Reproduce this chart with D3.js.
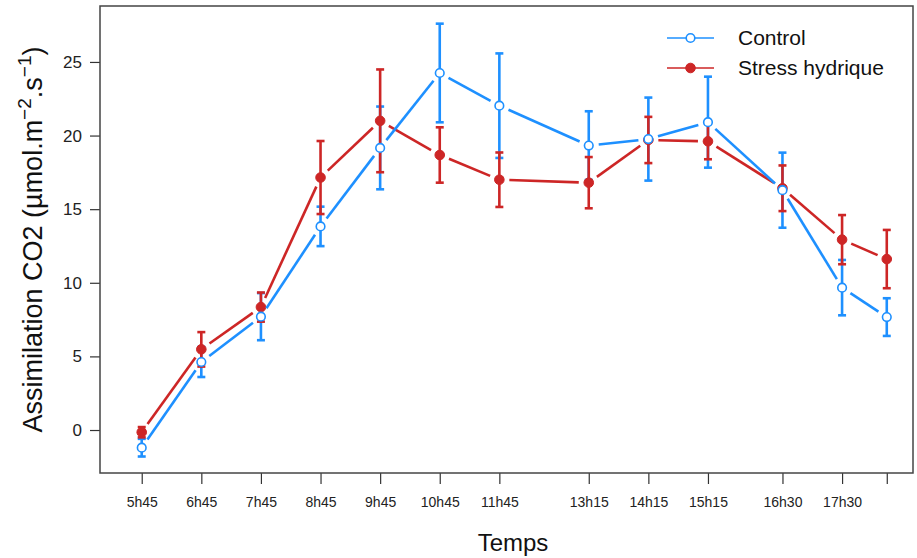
<!DOCTYPE html>
<html>
<head>
<meta charset="utf-8">
<script src="https://cdn.jsdelivr.net/npm/d3@7"></script>
<style>
  html, body { margin: 0; padding: 0; background: #fff; }
  svg { display: block; font-family: Arial, "Liberation Sans", sans-serif; }
</style>
</head>
<body>
<svg id="chart" width="917" height="558"></svg>
<script>
// Sampling times (decimal hours) and their tick labels
const hours = [5.75, 6.75, 7.75, 8.75, 9.75, 10.75, 11.75, 13.25, 14.25, 15.25, 16.5, 17.5, 18.25];
const hourLabels = ["5h45", "6h45", "7h45", "8h45", "9h45", "10h45", "11h45", "13h15", "14h15", "15h15", "16h30", "17h30", ""];

// CO2 assimilation (µmol.m-2.s-1), mean and error
const controlMean = [-1.2, 4.62, 7.7, 13.83, 19.16, 24.25, 22.03, 19.32, 19.76, 20.91, 16.29, 9.67, 7.67];
const controlErr  = [0.6, 1.02, 1.6, 1.34, 2.81, 3.35, 3.55, 2.33, 2.82, 3.09, 2.55, 1.88, 1.28];
const stressMean  = [-0.15, 5.48, 8.35, 17.15, 21.0, 18.68, 17.0, 16.8, 19.7, 19.61, 16.42, 12.93, 11.61];
const stressErr   = [0.35, 1.17, 0.99, 2.48, 3.49, 1.88, 1.85, 1.74, 1.57, 1.22, 1.55, 1.67, 1.98];

const yTicks = [0, 5, 10, 15, 20, 25];

const seriesNames = ["Control", "Stress hydrique"];
const BLUE = "#1e90ff";
const RED = "#cd2626";

const svg = d3.select("#chart");
const plot = { left: 100, right: 913, top: 6, bottom: 473 };

const x = d3.scaleLinear().domain([5.05, 18.69]).range([plot.left, plot.right]);
const y = d3.scaleLinear().domain([-2.92, 28.8]).range([plot.bottom, plot.top]);

// Axes
const xAxis = d3.axisBottom(x).tickValues(hours).tickFormat((d, i) => hourLabels[i]).tickSize(11).tickSizeOuter(0);
const gx = svg.append("g").attr("transform", `translate(0,${plot.bottom})`).call(xAxis);
gx.select(".domain").remove();
gx.selectAll(".tick line").attr("stroke", "#333").attr("stroke-width", 1.2);
gx.selectAll(".tick text").attr("font-size", 14).attr("fill", "#222").attr("y", 30).attr("dy", "0.32em")
  .attr("font-family", "Arial, 'Liberation Sans', sans-serif");

const yAxis = d3.axisLeft(y).tickValues(yTicks).tickSize(10).tickSizeOuter(0);
const gy = svg.append("g").attr("transform", `translate(${plot.left},0)`).call(yAxis);
gy.select(".domain").remove();
gy.selectAll(".tick line").attr("stroke", "#333").attr("stroke-width", 1.2);
gy.selectAll(".tick text").attr("font-size", 17).attr("fill", "#222").attr("x", -18)
  .attr("font-family", "Arial, 'Liberation Sans', sans-serif");

// Plot frame
svg.append("rect")
  .attr("x", plot.left).attr("y", plot.top)
  .attr("width", plot.right - plot.left).attr("height", plot.bottom - plot.top)
  .attr("fill", "none").attr("stroke", "#444").attr("stroke-width", 1.5);

// Axis titles
svg.append("text")
  .attr("x", 513).attr("y", 551)
  .attr("text-anchor", "middle").attr("font-size", 24).attr("fill", "#111")
  .text("Temps");

const yTitle = svg.append("text")
  .attr("transform", `translate(42,${(plot.top + plot.bottom) / 2}) rotate(-90)`)
  .attr("text-anchor", "middle").attr("font-size", 27).attr("fill", "#111");
yTitle.append("tspan").text("Assimilation CO2 (µmol.m");
yTitle.append("tspan").attr("font-size", 19).attr("dy", -11).text("\u22122");
yTitle.append("tspan").attr("dy", 11).text(".s");
yTitle.append("tspan").attr("font-size", 19).attr("dy", -11).text("\u22121");
yTitle.append("tspan").attr("dy", 11).text(")");

// Build series records
const makeSeries = (means, errs) => hours.map((h, i) => ({ h, v: means[i], e: errs[i] }));
const control = makeSeries(controlMean, controlErr);
const stress = makeSeries(stressMean, stressErr);

// Error bars with caps
function drawErrorBars(data, color) {
  const g = svg.append("g").attr("stroke", color).attr("stroke-width", 2.6).attr("fill", "none");
  const cap = 4;
  data.forEach(d => {
    const cx = x(d.h), y0 = y(d.v - d.e), y1 = y(d.v + d.e);
    g.append("line").attr("x1", cx).attr("x2", cx).attr("y1", y0).attr("y2", y1);
    g.append("line").attr("x1", cx - cap).attr("x2", cx + cap).attr("y1", y0).attr("y2", y0);
    g.append("line").attr("x1", cx - cap).attr("x2", cx + cap).attr("y1", y1).attr("y2", y1);
  });
}

// Connecting segments stopping short of each point, then markers
function drawLine(data, color, filled) {
  const gap = 10;
  const g = svg.append("g").attr("stroke", color).attr("stroke-width", 2.6);
  for (let i = 0; i < data.length - 1; i++) {
    const ax = x(data[i].h), ay = y(data[i].v);
    const bx = x(data[i + 1].h), by = y(data[i + 1].v);
    const len = Math.hypot(bx - ax, by - ay);
    if (len <= 2 * gap) continue;
    const ux = (bx - ax) / len, uy = (by - ay) / len;
    g.append("line")
      .attr("x1", ax + ux * gap).attr("y1", ay + uy * gap)
      .attr("x2", bx - ux * gap).attr("y2", by - uy * gap);
  }
  svg.append("g").selectAll("circle").data(data).join("circle")
    .attr("cx", d => x(d.h)).attr("cy", d => y(d.v))
    .attr("r", filled ? 4.8 : 4.3)
    .attr("fill", filled ? color : "#fff")
    .attr("stroke", color).attr("stroke-width", filled ? 1 : 1.6);
}

drawErrorBars(control, BLUE);
drawErrorBars(stress, RED);
drawLine(stress, RED, true);
drawLine(control, BLUE, false);

// Legend
const legend = svg.append("g");
[[seriesNames[0], BLUE, false, 38], [seriesNames[1], RED, true, 68]].forEach(([name, color, filled, ly]) => {
  legend.append("line").attr("x1", 667).attr("x2", 714).attr("y1", ly).attr("y2", ly)
    .attr("stroke", color).attr("stroke-width", 1.6);
  legend.append("circle").attr("cx", 690.5).attr("cy", ly).attr("r", filled ? 4.8 : 4.3)
    .attr("fill", filled ? color : "#fff").attr("stroke", color).attr("stroke-width", filled ? 1 : 1.6);
  legend.append("text").attr("x", 738).attr("y", ly).attr("dy", "0.35em")
    .attr("font-size", 21).attr("fill", "#111").text(name);
});
</script>
</body>
</html>
